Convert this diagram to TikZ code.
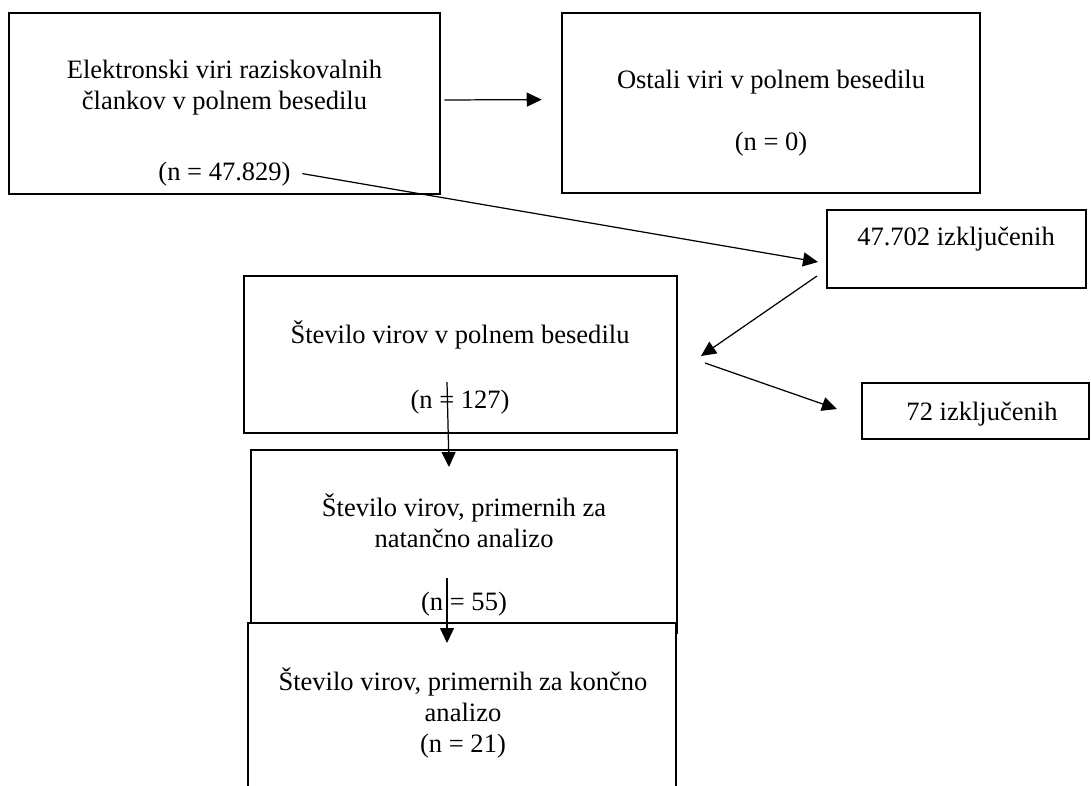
\documentclass[tikz,border=0pt]{standalone}
\usepackage{fontspec}
\setmainfont{Liberation Serif}
\usepackage{tikz}
\usetikzlibrary{arrows.meta, positioning, calc}

\begin{document}
\begin{tikzpicture}[x=0.02cm, y=-0.02cm,
    box/.style={draw, line width=1.5pt, rectangle, inner sep=0pt},
    txt/.style={font=\fontsize{15.1pt}{17.6pt}\selectfont, inner sep=0pt, anchor=base},
    arr/.style={-{Triangle[length=0.3cm, width=0.28cm]}, line width=0.7pt}]
    \useasboundingbox (0,0) rectangle (1091,785);

    % Boxes
    \node[box, minimum width=8.62cm, minimum height=3.62cm] (b1) at (224.5,103.5) {};
    \node[box, minimum width=8.36cm, minimum height=3.6cm] (b2) at (771,103) {};
    \node[box, minimum width=5.18cm, minimum height=1.56cm] (e1) at (956.5,249) {};
    \node[box, minimum width=4.54cm, minimum height=1.12cm] (e2) at (975.5,411) {};
    \node[box, minimum width=8.66cm, minimum height=3.14cm] (b3) at (460.5,354.5) {};
    \node[box, minimum width=8.52cm, minimum height=3.66cm] (b4) at (464,541.5) {};
    \node[box, fill=white, minimum width=8.56cm, minimum height=3.54cm] (b5) at (462,711.5) {};

    % Texts
    \node[txt] (t11) at (224.5,78) {Elektronski viri raziskovalnih};
    \node[txt] (t12) at (224.5,109) {člankov v polnem besedilu};
    \node[txt] (n1) at (224.5,180) {(n = 47.829)};
    \node[txt] (t21) at (771,88) {Ostali viri v polnem besedilu};
    \node[txt] (n2) at (771,150) {(n = 0)};
    \node[txt] (te1) at (956,245) {47.702 izključenih};
    \node[txt] (te2) at (982,420) {72 izključenih};
    \node[txt] (t31) at (460,343) {Število virov v polnem besedilu};
    \node[txt] (n3) at (460,408) {(n = 127)};
    \node[txt] (t41) at (464,516) {Število virov, primernih za};
    \node[txt] (t42) at (464,547) {natančno analizo};
    \node[txt] (n4) at (464,610) {(n = 55)};
    \node[txt] (t51) at (463,690) {Število virov, primernih za končno};
    \node[txt] (t52) at (463,721) {analizo};
    \node[txt] (n5) at (463,752) {(n = 21)};

    % Arrow ends
    \coordinate (e1in) at (818,262);
    \coordinate (e1out) at (817,276);
    \coordinate (b3in) at (701,356);
    \coordinate (b3out) at (705,363);
    \coordinate (e2in) at (837,409);
    \coordinate (b3down) at (447,382);
    \coordinate (b4in) at (449,467);
    \coordinate (b4down) at (447,578);
    \coordinate (b5in) at (447,643);

    % Arrows
    \draw[arr, shorten <=0.06cm, shorten >=0.38cm] ([yshift=0.07cm]b1.east) -- ([yshift=0.07cm]b2.west);
    \draw[arr] ([xshift=0.23cm]n1.east) -- (e1in);
    \draw[arr] (e1out) -- (b3in);
    \draw[arr] (b3out) -- (e2in);
    \draw[arr] (b3down) -- (b4in);
    \draw[arr] (b4down) -- (b5in);

\end{tikzpicture}
\end{document}
